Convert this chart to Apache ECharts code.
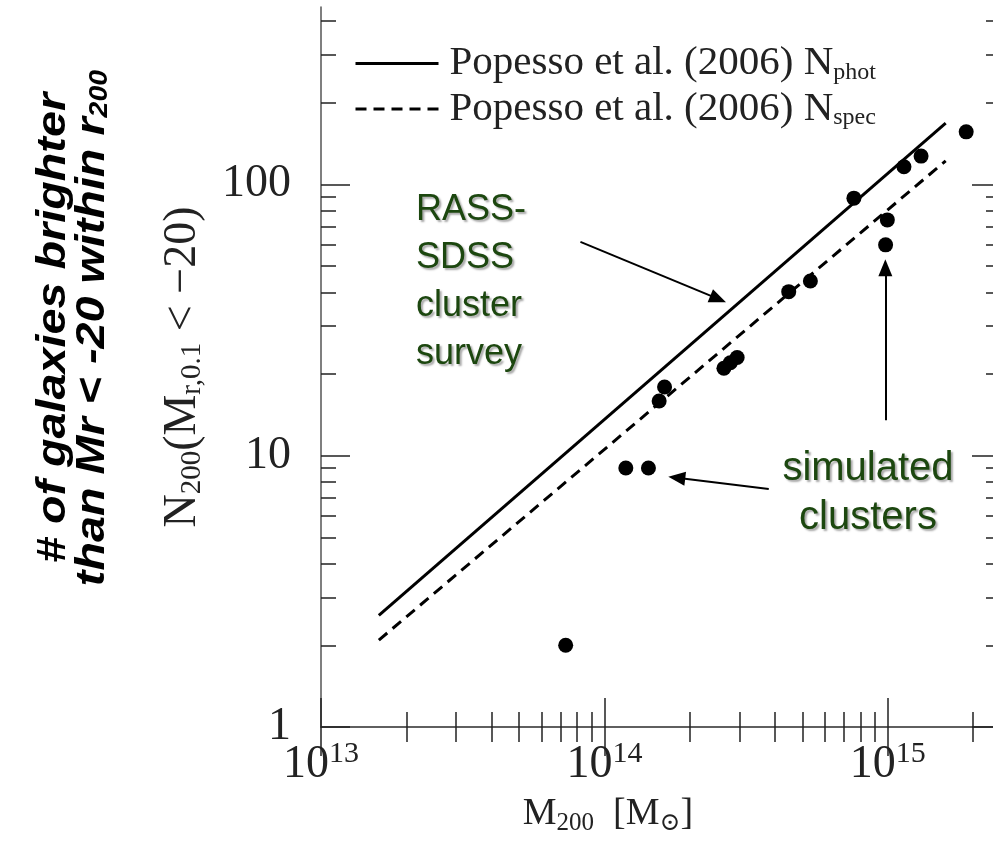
<!DOCTYPE html>
<html><head><meta charset="utf-8">
<script src="https://cdn.jsdelivr.net/npm/echarts@6/dist/echarts.min.js"></script>
<style>html,body{margin:0;padding:0;background:#fff}#c{width:993px;height:849px}</style>
</head><body><div id="c"></div>
<script>
// ---- data ----
const xRange = [1e13, 2.35e15];   // visible part of the mass axis (frame is cut at the right edge)
const yRange = [1, 450];
const xMajorTicks = [1e13, 1e14, 1e15];
const xMinorTicks = [2e13,3e13,4e13,5e13,6e13,7e13,8e13,9e13,2e14,3e14,4e14,5e14,6e14,7e14,8e14,9e14,2e15];
const yMajorTicks = [1, 10, 100];
const yMinorTicks = [2,3,4,5,6,7,8,9,20,30,40,50,60,70,80,90,200,300,400];
const clusterMass = [7.3e13, 1.19e14, 1.43e14, 1.56e14, 1.63e14, 2.64e14, 2.78e14, 2.94e14, 4.47e14, 5.33e14, 7.59e14, 9.82e14, 9.96e14, 1.14e15, 1.31e15, 1.89e15];
const clusterN    = [2.0, 9.0, 9.0, 15.9, 17.9, 21.0, 22.0, 23.0, 40.2, 44.0, 88.9, 59.8, 73.9, 116, 127, 156];
const fitMass = [1.6e13, 1.6e15];
const photN = [2.58, 168];
const specN = [2.09, 122];
const seriesNames = ['Popesso et al. (2006) N_phot', 'Popesso et al. (2006) N_spec'];
// annotation arrows: [tailMass, tailN, headMass, headN]
const arrows = [
  [8.23e13, 61.3, 2.52e14, 37.8],
  [9.8e14, 13.5, 9.8e14, 49.2],
  [3.80e14, 7.53, 1.80e14, 8.29]
];

// ---- build ----
const L = Math.log10;
const SERIF = '"Liberation Serif", "DejaVu Serif", serif';
const SANS = '"Liberation Sans", Arial, sans-serif';
const TXT = '#222';
const pairs = (xs, ys) => xs.map((x, i) => [L(x), L(ys[i])]);

function axisCfg(dim, pos, major, labels, line, tickLen) {
  const isX = dim === 'x';
  const range = isX ? xRange : yRange;
  const ticks = isX ? (major ? xMajorTicks : xMinorTicks) : (major ? yMajorTicks : yMinorTicks);
  const cfg = {
    type: 'value', position: pos,
    min: L(range[0]), max: L(range[1]), interval: 1,
    axisLine: { show: line, lineStyle: { color: '#555', width: 1.5 } },
    axisTick: { show: true, inside: true, length: tickLen || (major ? 29 : 15),
      customValues: ticks.map(L), lineStyle: { color: '#222', width: 1.5 } },
    axisLabel: { show: labels },
    splitLine: { show: false }
  };
  if (labels) {
    cfg.axisLabel.customValues = ticks.map(L);
    if (isX) {
      cfg.axisLabel.margin = 12;
      cfg.axisLabel.formatter = v => '{b|10}{s|' + Math.round(v) + '}';
      cfg.axisLabel.rich = {
        b: { fontFamily: SERIF, fontSize: 46, color: TXT },
        s: { fontFamily: SERIF, fontSize: 30, color: TXT, padding: [0, 0, 22, 0] }
      };
    } else {
      cfg.axisLabel.margin = 30;
      cfg.axisLabel.fontFamily = SERIF;
      cfg.axisLabel.fontSize = 46;
      cfg.axisLabel.color = TXT;
      cfg.axisLabel.formatter = v => String(Math.round(Math.pow(10, v)));
    }
  }
  return cfg;
}

const yName = {
  name: '{a|N}{s|200}{a|(M}{s|r,0.1}{a| < \u221220)}',
  nameLocation: 'middle', nameGap: 114, nameRotate: 90,
  nameTextStyle: { rich: {
    a: { fontFamily: SERIF, fontSize: 46, color: TXT },
    s: { fontFamily: SERIF, fontSize: 29, color: TXT, padding: [20, 0, 0, 0] }
  } }
};
const xName = {
  name: '{a|M}{s|200}{a|  [M}{s|\u2299}{a|]}',
  nameLocation: 'middle', nameGap: 66,
  nameTextStyle: { padding: [0, 98, 0, 0], rich: {
    a: { fontFamily: SERIF, fontSize: 38, color: TXT },
    s: { fontFamily: SERIF, fontSize: 25, color: TXT, padding: [18, 0, 0, 0] }
  } }
};

const xAxes = [
  Object.assign(axisCfg('x', 'bottom', true, true, true), xName),
  axisCfg('x', 'bottom', false, false, false),
  axisCfg('x', 'top', true, false, true),
  axisCfg('x', 'top', false, false, false)
];
const yAxes = [
  Object.assign(axisCfg('y', 'left', true, true, true), yName),
  axisCfg('y', 'left', false, false, false),
  axisCfg('y', 'right', true, false, false, 21),
  axisCfg('y', 'right', false, false, false, 7)
];

const legendRich = {
  a: { fontFamily: SERIF, fontSize: 41, lineHeight: 49, color: TXT, padding: [0, 0, 0, 6] },
  s: { fontFamily: SERIF, fontSize: 24, color: TXT, padding: [18, 0, 0, 0] }
};

const greenText = (text, x, y, align, size, lh) => ({
  type: 'text', x, y,
  style: {
    text, fontFamily: SANS, fontSize: size, lineHeight: lh, fill: '#1c470f',
    textAlign: align, textVerticalAlign: 'top',
    textShadowColor: 'rgba(0,0,0,0.35)', textShadowOffsetX: 2, textShadowOffsetY: 2, textShadowBlur: 2
  }
});

const option = {
  animation: false,
  backgroundColor: '#fff',
  grid: { left: 321, top: 7, right: 0, bottom: 122, containLabel: false },
  xAxis: xAxes,
  yAxis: yAxes,
  legend: {
    orient: 'vertical', left: 349, top: 38, itemWidth: 83, itemHeight: 14, itemGap: 4,
    selectedMode: false,
    data: seriesNames,
    itemStyle: { opacity: 0 },
    lineStyle: { width: 3 },
    formatter: n => '{a|Popesso et al. (2006) N}{s|' + n.split('_')[1] + '}',
    textStyle: { rich: legendRich }
  },
  graphic: [
    { type: 'text', x: 74, y: 328, rotation: Math.PI / 2, scaleX: 1.14,
      style: { text: '{a|# of galaxies brighter}\n{a|than Mr < -20 within r}{s|200}',
        rich: {
          a: { fontFamily: SANS, fontSize: 41, fontWeight: 'bold', fontStyle: 'italic', lineHeight: 37, fill: '#000' },
          s: { fontFamily: SANS, fontSize: 25, fontWeight: 'bold', fontStyle: 'italic', fill: '#000', padding: [15, 0, 0, 0] }
        },
        textAlign: 'center', textVerticalAlign: 'middle' } },
    greenText('RASS-\nSDSS\ncluster\nsurvey', 416, 186, 'left', 36, 48),
    greenText('simulated\nclusters', 868, 444, 'center', 40, 49)
  ],
  series: [
    { name: seriesNames[0], type: 'line', data: pairs(fitMass, photN), symbol: 'none',
      lineStyle: { color: '#000', width: 3, type: 'solid' }, itemStyle: { color: '#000' } },
    { name: seriesNames[1], type: 'line', data: pairs(fitMass, specN), symbol: 'none',
      lineStyle: { color: '#000', width: 3, type: [11, 7] }, itemStyle: { color: '#000' } },
    { name: 'simulated clusters', type: 'scatter', data: pairs(clusterMass, clusterN),
      symbol: 'circle', symbolSize: 15, itemStyle: { color: '#000', opacity: 1 },
      markLine: {
        silent: true, animation: false,
        symbol: ['none', 'triangle'], symbolSize: [14, 17],
        label: { show: false },
        lineStyle: { color: '#000', width: 2, type: 'solid' },
        data: arrows.map(a => [{ coord: [L(a[0]), L(a[1])] }, { coord: [L(a[2]), L(a[3])] }])
      } }
  ]
};
echarts.init(document.getElementById('c'), null, { renderer: 'canvas' }).setOption(option);
</script></body></html>
